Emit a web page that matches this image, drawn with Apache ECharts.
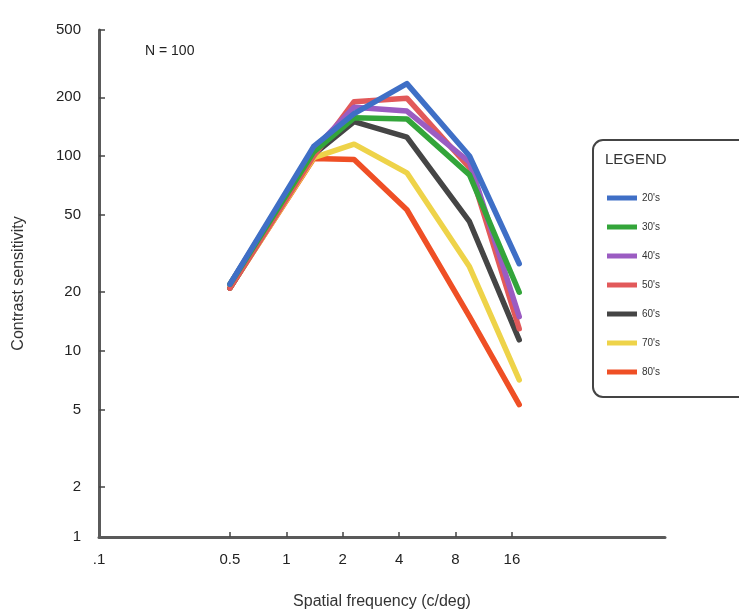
<!DOCTYPE html>
<html>
<head>
<meta charset="utf-8">
<script src="https://cdn.jsdelivr.net/npm/echarts@6/dist/echarts.min.js"></script>
<style>
  html, body { margin: 0; padding: 0; background: #fff; }
  #chart { width: 739px; height: 616px; }
</style>
</head>
<body>
<div id="chart"></div>
<script>
var chartDom = document.getElementById('chart');
var myChart = echarts.init(chartDom);

// spatial frequencies where the curves bend (c/deg)
var freqs = [0.5, 1.4, 2.3, 4.4, 9.5, 17.5];

var ageGroups = ["20's", "30's", "40's", "50's", "60's", "70's", "80's"];
var colors = ['#3f6fc6', '#33a53a', '#9b5cc2', '#e2595a', '#454545', '#eed349', '#ef4f25'];

var s20 = [22, 112, 165, 235, 100, 28];
var s30 = [22, 105, 157, 155, 80, 20];
var s40 = [22, 108, 178, 170, 93, 15];
var s50 = [21, 100, 190, 198, 87, 13];
var s60 = [21, 102, 150, 125, 46, 11.4];
var s70 = [21, 98, 115, 82, 27, 7.1];
var s80 = [21, 97, 96, 53, 15, 5.3];
var allSeries = [s20, s30, s40, s50, s60, s70, s80];

var xTickLabels = [0.1, 0.5, 1, 2, 4, 8, 16];
var xTicks = [0.5, 1, 2, 4, 8, 16];
// the printed axis ends are labelled 1 and 500
var yMin = 1.11, yMax = 443;
var yTickLabels = [yMin, 2, 5, 10, 20, 50, 100, 200, yMax];

var series = ageGroups.map(function (name, i) {
  return {
    name: name,
    type: 'line',
    data: freqs.map(function (f, j) { return [f, allSeries[i][j]]; }),
    symbol: 'none',
    z: 10 - i,
    lineStyle: { color: colors[i], width: 5.5, cap: 'round', join: 'round' },
    itemStyle: { color: colors[i] }
  };
});

var option = {
  animation: false,
  backgroundColor: '#fff',
  textStyle: { fontFamily: 'Arial, Liberation Sans, sans-serif' },
  grid: { left: 99, right: 74, top: 30, bottom: 79 },
  xAxis: {
    type: 'log',
    min: 0.1,
    max: 105,
    name: 'Spatial frequency (c/deg)',
    nameLocation: 'middle',
    nameGap: 57,
    nameTextStyle: { fontSize: 16, color: '#333' },
    splitLine: { show: false },
    axisLine: { lineStyle: { color: '#5a5a5a', width: 3 } },
    axisTick: { inside: true, length: 5, customValues: xTicks, lineStyle: { color: '#444', width: 1.5 } },
    axisLabel: {
      customValues: xTickLabels,
      fontSize: 15,
      color: '#222',
      margin: 15,
      formatter: function (v) { return v === 0.1 ? '.1' : String(v); }
    }
  },
  yAxis: {
    type: 'log',
    min: yMin,
    max: yMax,
    name: 'Contrast sensitivity',
    nameLocation: 'middle',
    nameGap: 72,
    nameTextStyle: { fontSize: 16, color: '#333' },
    splitLine: { show: false },
    axisLine: { lineStyle: { color: '#5a5a5a', width: 3 } },
    axisTick: { inside: true, length: 6, customValues: yTickLabels.slice(1), lineStyle: { color: '#444', width: 1.5 } },
    axisLabel: {
      customValues: yTickLabels,
      fontSize: 15,
      color: '#222',
      margin: 18,
      formatter: function (v) {
        if (v === yMin) return '1';
        if (v === yMax) return '500';
        return String(v);
      }
    }
  },
  legend: {
    orient: 'vertical',
    left: 602,
    top: 188,
    icon: 'rect',
    itemWidth: 30,
    itemHeight: 5,
    itemGap: 19,
    data: ageGroups,
    textStyle: { fontSize: 10, color: '#333' }
  },
  graphic: [
    {
      type: 'rect',
      shape: { x: 593, y: 140, width: 170, height: 257, r: 10 },
      style: { fill: 'none', stroke: '#444', lineWidth: 2 },
      z: 1
    },
    {
      type: 'text',
      left: 605,
      top: 152,
      style: { text: 'LEGEND', fontSize: 15, fill: '#333', fontFamily: 'Arial, Liberation Sans, sans-serif' }
    },
    {
      type: 'text',
      left: 145,
      top: 44,
      style: { text: 'N = 100', fontSize: 14, fill: '#222', fontFamily: 'Arial, Liberation Sans, sans-serif' }
    }
  ],
  series: series
};

option && myChart.setOption(option);
</script>
</body>
</html>
